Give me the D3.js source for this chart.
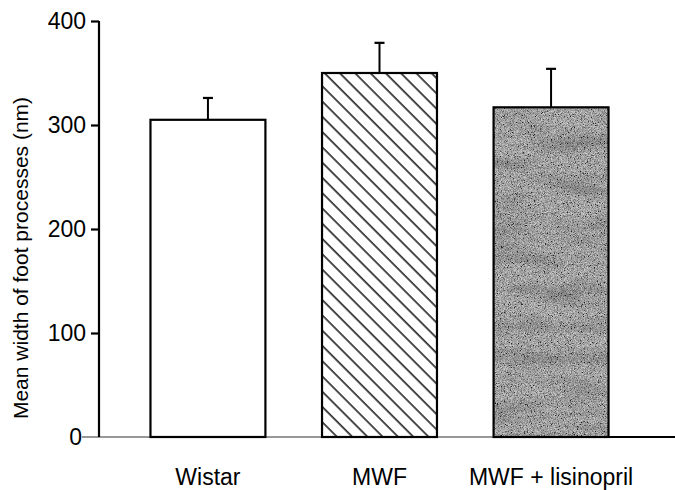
<!DOCTYPE html>
<html>
<head>
<meta charset="utf-8">
<script src="https://cdn.jsdelivr.net/npm/d3@7"></script>
<style>
html,body{margin:0;padding:0;background:#fff;}
svg{display:block;}
text{font-family:"Liberation Sans",Arial,Helvetica,sans-serif;fill:#000;}
</style>
</head>
<body>
<svg id="chart" width="675" height="490"></svg>
<script>
const categories = ["Wistar", "MWF", "MWF + lisinopril"];
const means = [305, 350, 317];
const errors = [21, 29, 37];
const yTicks = [0, 100, 200, 300, 400];
const fills = ["white", "hatch", "noise"];
const yTitle = "Mean width of foot processes (nm)";

const svg = d3.select("#chart");
const W = 675, H = 490;

const x = d3.scaleBand().domain(categories).range([99, 660]).paddingInner(0.33).paddingOuter(0.3);
const y = d3.scaleLinear().domain([0, 400]).range([437, 21]);

const defs = svg.append("defs");
// diagonal hatch pattern
const pat = defs.append("pattern").attr("id", "hatch").attr("patternUnits", "userSpaceOnUse")
  .attr("width", 10.8).attr("height", 10.8).attr("patternTransform", "rotate(-45)");
pat.append("rect").attr("width", 10.8).attr("height", 10.8).attr("fill", "#fff");
pat.append("line").attr("x1", 5).attr("x2", 5).attr("y1", 0).attr("y2", 10.8)
  .attr("stroke", "#000").attr("stroke-width", 1.4);

// fine grain noise (grey values)
const f = defs.append("filter").attr("id", "noise").attr("x", 0).attr("y", 0).attr("width", 1).attr("height", 1);
f.append("feTurbulence").attr("type", "fractalNoise").attr("baseFrequency", "1.3 0.9").attr("numOctaves", 2).attr("seed", 4).attr("result", "t");
f.append("feColorMatrix").attr("in", "t").attr("type", "matrix")
  .attr("values", "1.7 0 0 0 -0.4  1.7 0 0 0 -0.4  1.7 0 0 0 -0.4  0 0 0 0 0.7").attr("result", "a");
f.append("feComposite").attr("in", "a").attr("in2", "SourceGraphic").attr("operator", "in");

// soft horizontal banding
const f2 = defs.append("filter").attr("id", "noise2").attr("x", 0).attr("y", 0).attr("width", 1).attr("height", 1);
f2.append("feTurbulence").attr("type", "fractalNoise").attr("baseFrequency", "0.015 0.06").attr("numOctaves", 2).attr("seed", 9).attr("result", "t");
f2.append("feColorMatrix").attr("in", "t").attr("type", "matrix")
  .attr("values", "0 0 0 0 0  0 0 0 0 0  0 0 0 0 0  0 0 1.4 0 -0.6").attr("result", "a");
f2.append("feComposite").attr("in", "a").attr("in2", "SourceGraphic").attr("operator", "in");

// baseline
svg.append("line").attr("x1", 82).attr("x2", W).attr("y1", y(0)).attr("y2", y(0))
  .attr("stroke", "#333").attr("stroke-width", 1.2);
svg.append("line").attr("x1", x(categories[2]) + x.bandwidth()).attr("x2", W).attr("y1", y(0)).attr("y2", y(0))
  .attr("stroke", "#000").attr("stroke-width", 2.2);

// bars
const data = categories.map((c, i) => ({c, m: means[i], e: errors[i], f: fills[i]}));
const g = svg.append("g");
data.forEach(d => {
  const bx = x(d.c), bw = x.bandwidth(), by = y(d.m), bh = y(0) - y(d.m);
  if (d.f === "noise") {
    g.append("rect").attr("x", bx).attr("y", by).attr("width", bw).attr("height", bh).attr("fill", "#7c7c7c");
    g.append("rect").attr("x", bx).attr("y", by).attr("width", bw).attr("height", bh).attr("fill", "#000").attr("filter", "url(#noise)");
    g.append("rect").attr("x", bx).attr("y", by).attr("width", bw).attr("height", bh).attr("fill", "#000").attr("opacity", 0.3).attr("filter", "url(#noise2)");
  } else {
    g.append("rect").attr("x", bx).attr("y", by).attr("width", bw).attr("height", bh)
      .attr("fill", d.f === "hatch" ? "url(#hatch)" : "#fff");
  }
  g.append("rect").attr("x", bx).attr("y", by).attr("width", bw).attr("height", bh)
    .attr("fill", "none").attr("stroke", "#000").attr("stroke-width", 2.2);
  const cx = bx + bw / 2;
  g.append("line").attr("x1", cx).attr("x2", cx).attr("y1", by).attr("y2", y(d.m + d.e))
    .attr("stroke", "#000").attr("stroke-width", 2);
  g.append("line").attr("x1", cx - 5).attr("x2", cx + 5).attr("y1", y(d.m + d.e)).attr("y2", y(d.m + d.e))
    .attr("stroke", "#000").attr("stroke-width", 2.2);
});

// y axis
const yAxis = d3.axisLeft(y).tickValues(yTicks).tickSize(8).tickPadding(5).tickFormat(d3.format("d"));
const ya = svg.append("g").attr("transform", "translate(99,0)").call(yAxis);
ya.select(".domain").attr("stroke", "#000").attr("stroke-width", 2.2).attr("d", `M0,${y(400)}V${y(0)}`);
ya.selectAll(".tick line").attr("stroke", "#000").attr("stroke-width", 2.2);
ya.selectAll(".tick text").attr("font-size", 23).attr("fill", "#000")
  .attr("font-family", '"Liberation Sans",Arial,sans-serif');
ya.selectAll(".tick").filter(d => d === 0).select("line").remove();
ya.selectAll(".tick").filter(d => d === 0).select("text").attr("x", -17);

// x labels
svg.append("g").selectAll("text").data(categories).join("text")
  .attr("x", d => x(d) + x.bandwidth() / 2).attr("y", 485)
  .attr("text-anchor", "middle").attr("font-size", 23).text(d => d);

// y title
svg.append("text").attr("transform", `translate(28,${258}) rotate(-90)`)
  .attr("text-anchor", "middle").attr("font-size", 21).text(yTitle);
</script>
</body>
</html>
